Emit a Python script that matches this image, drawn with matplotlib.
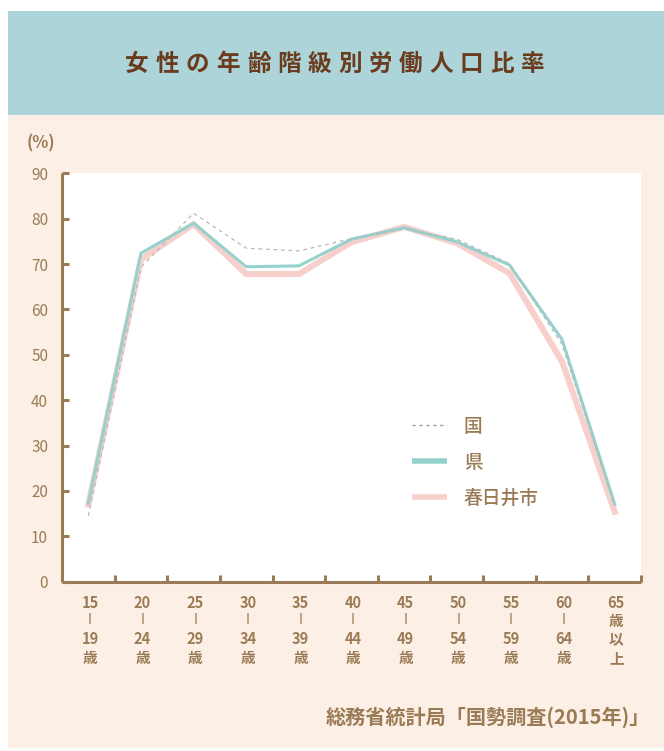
import matplotlib
matplotlib.use("Agg")
import matplotlib.pyplot as plt
from matplotlib.patches import Rectangle
from matplotlib.lines import Line2D
from matplotlib.transforms import blended_transform_factory

plt.rcParams['font.family'] = ['Noto Sans CJK JP', 'DejaVu Sans']

# ---- data ----
age_from = ["15", "20", "25", "30", "35", "40", "45", "50", "55", "60", "65"]
age_to = ["19", "24", "29", "34", "39", "44", "49", "54", "59", "64", None]
national = [14.5, 69.3, 81.2, 73.5, 72.9, 75.6, 77.8, 75.5, 70.1, 52.3, 16.9]
prefecture = [17.3, 72.4, 79.0, 69.4, 69.6, 75.5, 78.0, 74.9, 69.8, 53.4, 17.1]
kasugai = [17.0, 71.0, 78.8, 67.8, 67.8, 74.8, 78.2, 74.6, 68.0, 48.5, 15.4]
series_names = ["国", "県", "春日井市"]
yticks = [0, 10, 20, 30, 40, 50, 60, 70, 80, 90]
title = "女性の年齢階級別労働人口比率"
source = "総務省統計局「国勢調査(2015年)」"

W, H = 664, 751
BROWN = "#9b7b55"
TITLE_C = "#6a3c1d"
PINK = "#f8d0cb"
TEAL = "#95d1cd"
GRAY = "#b8b8b8"

fig = plt.figure(figsize=(W / 100, H / 100), dpi=100)
fig.patch.set_facecolor("white")

def fx(px):
    return px / W

def fy(py):
    return 1 - py / H

# backgrounds
fig.patches.append(Rectangle((fx(8), fy(748)), fx(656), (748 - 115) / H,
                             transform=fig.transFigure, facecolor="#fcf0e6",
                             edgecolor="none", zorder=-10))
fig.patches.append(Rectangle((fx(8), fy(115)), fx(656), (115 - 11) / H,
                             transform=fig.transFigure, facecolor="#acd4d9",
                             edgecolor="none", zorder=-10))

# title with letter spacing
pitch = 30.4
start = 137
for i, ch in enumerate(title):
    fig.text(fx(start + i * pitch), fy(64), ch, ha="center", va="center",
             fontsize=17, color=TITLE_C, fontweight="bold")

# axes
left, right, top, bottom = 62, 641, 173.3, 581.7
ax = fig.add_axes([fx(left), fy(bottom), fx(right - left), (bottom - top) / H])
ax.set_facecolor("white")
x = list(range(len(age_from)))
ax.plot(x, kasugai, color=PINK, lw=4.4, zorder=2)
ax.plot(x, prefecture, color=TEAL, lw=2.2, zorder=3)
ax.plot(x, national, color=GRAY, lw=0.9, dashes=(3, 3), zorder=4)

ax.set_xlim(-0.5, len(x) - 0.5)
ax.set_ylim(0, 90)
for s in ["top", "right"]:
    ax.spines[s].set_visible(False)
for s in ["left", "bottom"]:
    ax.spines[s].set_color(BROWN)
    ax.spines[s].set_linewidth(2.2)
    ax.spines[s].set_capstyle("butt")

ax.set_yticks(yticks)
ax.set_yticklabels([str(v) for v in yticks])
ax.tick_params(axis="y", direction="in", length=5, width=2.2, color=BROWN,
               labelcolor=BROWN, labelsize=11, pad=10)
ax.set_xticks([i + 0.5 for i in x])
ax.set_xticklabels([])
ax.tick_params(axis="x", direction="in", length=5, width=2.2, color=BROWN)

# x labels
tr = blended_transform_factory(ax.transData, fig.transFigure)
for i in x:
    xi = i + 0.03
    ax.text(xi, fy(603), age_from[i], transform=tr, ha="center", va="center",
            fontsize=10.5, color=BROWN, fontweight="bold", clip_on=False)
    if age_to[i] is not None:
        ax.text(xi, fy(619), "|", transform=tr, ha="center", va="center",
                fontsize=8, color=BROWN, fontweight="heavy", clip_on=False,
                family="DejaVu Sans")
        ax.text(xi, fy(639), age_to[i], transform=tr, ha="center", va="center",
                fontsize=10.5, color=BROWN, fontweight="bold", clip_on=False)
        ax.text(xi, fy(658), "歳", transform=tr, ha="center", va="center",
                fontsize=10.5, color=BROWN, fontweight="bold", clip_on=False)
    else:
        for ch, py in zip("歳以上", [621, 639, 658]):
            ax.text(xi, fy(py), ch, transform=tr, ha="center", va="center",
                    fontsize=10.5, color=BROWN, fontweight="bold", clip_on=False)

# (%) label
fig.text(fx(41), fy(143), "(%)", ha="center", va="center", fontsize=12,
         color=BROWN, fontweight="bold")

# legend
handles = [
    Line2D([], [], color="#9a9a9a", lw=1.0, dashes=(2.2, 2.8)),
    Line2D([], [], color=TEAL, lw=4.0, solid_capstyle="butt"),
    Line2D([], [], color=PINK, lw=4.0, solid_capstyle="butt"),
]
leg = ax.legend(handles, series_names,
                loc="upper left", bbox_to_anchor=(fx(412), fy(417)),
                bbox_transform=fig.transFigure, frameon=False,
                handlelength=1.87, handletextpad=0.9, labelspacing=0.9,
                borderpad=0, borderaxespad=0,
                prop={"size": 13.5, "weight": "medium"})
for t in leg.get_texts():
    t.set_color(BROWN)

# source
fig.text(fx(650), fy(717), source, ha="right", va="center", fontsize=14.5,
         color=BROWN, fontweight="bold")

fig.savefig("out.png", dpi=100, facecolor=fig.get_facecolor())
